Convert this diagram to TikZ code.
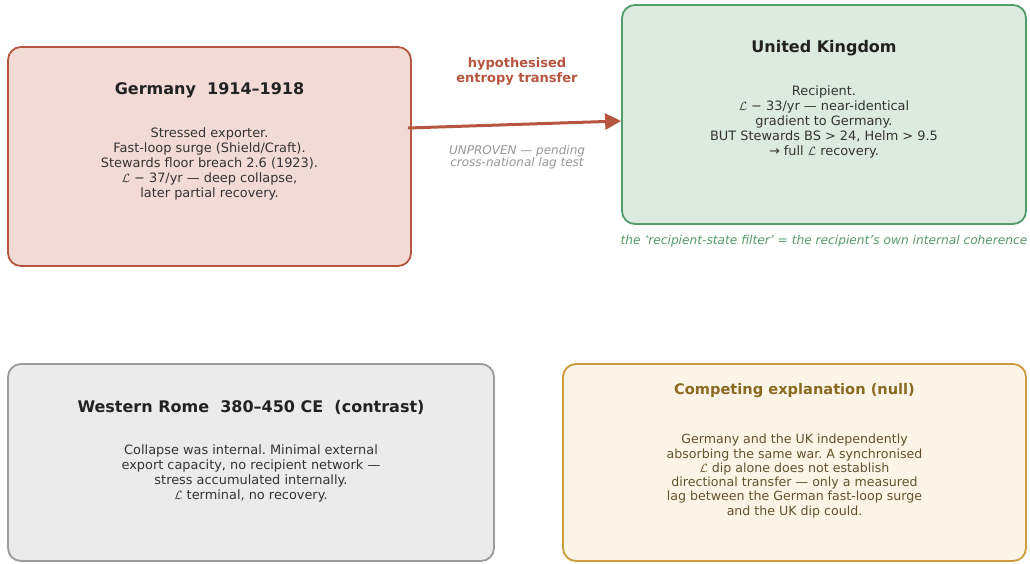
\documentclass[tikz,border=0pt]{standalone}
\usepackage{fontspec}
\setmainfont{DejaVu Sans}
\usetikzlibrary{arrows.meta}
\definecolor{gerfill}{RGB}{243,219,213}
\definecolor{gerdraw}{RGB}{182,86,64}
\definecolor{ukfill}{RGB}{220,235,224}
\definecolor{ukdraw}{RGB}{84,156,106}
\definecolor{romefill}{RGB}{235,235,235}
\definecolor{romedraw}{RGB}{155,155,155}
\definecolor{nullfill}{RGB}{252,244,230}
\definecolor{nulldraw}{RGB}{204,156,60}
\definecolor{nulltitle}{RGB}{139,106,34}
\definecolor{nullbody}{RGB}{98,82,45}
\definecolor{titlecol}{RGB}{34,34,34}
\definecolor{bodycol}{RGB}{51,51,51}
\definecolor{notecol}{RGB}{150,150,150}
\newcommand{\Lc}{$\mathcal{L}$}
\frenchspacing
\tikzset{
  box/.style={draw, line width=1.8pt, rounded corners=13pt, inner sep=0pt},
  ttl/.style={font=\bfseries\fontsize{16}{19}\selectfont, text=titlecol, inner sep=0pt},
  bdy/.style={font=\fontsize{12.9}{15}\selectfont, align=center, text=bodycol, inner sep=0pt},
  arr/.style={draw=gerdraw, line width=3pt, -{Triangle[length=16pt,width=16pt]}},
}
\begin{document}
\begin{tikzpicture}[x=1pt,y=-1pt]
\useasboundingbox[fill=white] (0,0) rectangle (1030,563);
% boxes
\node[box, fill=gerfill, draw=gerdraw, minimum width=403pt, minimum height=219pt] (ger) at (209.5,156.5) {};
\node[box, fill=ukfill, draw=ukdraw, minimum width=404pt, minimum height=219pt] (uk) at (824,114.5) {};
\node[box, fill=romefill, draw=romedraw, minimum width=486pt, minimum height=197pt] (rome) at (251,462.5) {};
\node[box, fill=nullfill, draw=nulldraw, minimum width=463pt, minimum height=197pt] (null) at (794.5,462.5) {};
% Germany
\node[ttl] (gert) at (209.5,90) {Germany\ \ 1914–1918};
\node[bdy] (gerb) at (209.5,164) {Stressed exporter.\\Fast-loop surge (Shield/Craft).\\Stewards floor breach 2.6 (1923).\\\Lc\ − 37/yr — deep collapse,\\later partial recovery.};
% UK
\node[ttl] (ukt) at (824,48) {United Kingdom};
\node[bdy] (ukb) at (824,122) {Recipient.\\\Lc\ − 33/yr — near-identical\\gradient to Germany.\\BUT Stewards BS > 24, Helm > 9.5\\→ full \Lc\ recovery.};
\node[font=\itshape\fontsize{12.2}{14}\selectfont, text=ukdraw, inner sep=0pt] (ukcap) at (824,241) {the ‘recipient-state filter’ = the recipient's own internal coherence};
% Rome
\node[ttl] (romet) at (251,407) {Western Rome\ \ 380–450 CE\ \ (contrast)};
\node[bdy] (romeb) at (251,473) {Collapse was internal. Minimal external\\export capacity, no recipient network —\\stress accumulated internally.\\\Lc\ terminal, no recovery.};
% Null
\node[ttl, text=nulltitle, font=\bfseries\fontsize{14.6}{18}\selectfont] (nullt) at (794.5,391) {Competing explanation (null)};
\node[bdy, text=nullbody, font=\fontsize{12.6}{14.3}\selectfont] (nullb) at (794.5,476) {Germany and the UK independently\\absorbing the same war. A synchronised\\\Lc\ dip alone does not establish\\directional transfer — only a measured\\lag between the German fast-loop surge\\and the UK dip could.};
% arrow
\draw[arr] ([xshift=-4pt,yshift=28.5pt]ger.east) -- ([yshift=-6.5pt]uk.west);
\node[font=\bfseries\fontsize{13}{15}\selectfont, text=gerdraw, align=center, inner sep=0pt] (arrlab) at (517,71.5) {hypothesised\\entropy transfer};
\node[font=\itshape\fontsize{12}{12.5}\selectfont, text=notecol, align=center, inner sep=0pt] (arrnote) at (517,157) {UNPROVEN — pending\\cross-national lag test};
\end{tikzpicture}
\end{document}
